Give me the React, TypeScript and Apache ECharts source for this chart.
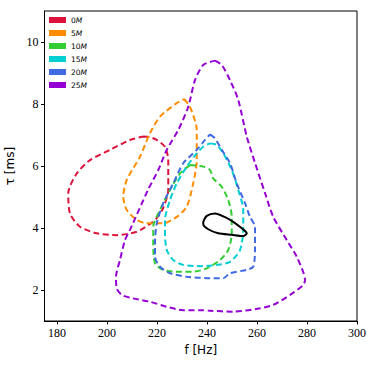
import React, { useEffect, useRef } from "react";
import * as echarts from "echarts";

// Contour outlines (f [Hz], tau [ms])
const c0M: number[][] = [
  [214.5, 6.95], [217.2, 6.93], [219.9, 6.84], [223.2, 6.62], [224.5, 6.19], [224.5, 5.65],
  [224.5, 5.23], [222.5, 4.65], [219.9, 4.32], [217.2, 4.13], [211.9, 3.88], [203.9, 3.77],
  [195.9, 3.83], [189.2, 4.04], [185.2, 4.47], [184.5, 5.12], [187.9, 5.76], [193.2, 6.19],
  [201.2, 6.52], [209.2, 6.84], [214.5, 6.95],
];
const c5M: number[][] = [
  [230.8, 8.16], [233.2, 7.91], [235.9, 7.16], [235.9, 6.19], [234.5, 5.45], [231.9, 4.69],
  [227.9, 4.36], [222.5, 4.15], [215.9, 4.15], [211.9, 4.26], [207.9, 4.58], [206.5, 5.01],
  [207.9, 5.55], [213.2, 6.3], [217.2, 7.06], [221.2, 7.59], [227.9, 8.03], [230.8, 8.16],
];
const c10M: number[][] = [
  [233.2, 6.03], [238.5, 5.98], [241.2, 5.87], [242.5, 5.6], [245.9, 5.33], [248.5, 4.9],
  [249.9, 4.36], [249.9, 3.83], [248.5, 3.29], [245.2, 2.97], [239.9, 2.7], [234.5, 2.59],
  [227.9, 2.59], [222.5, 2.65], [219.2, 2.86], [218.5, 3.51], [218.5, 4.04], [221.2, 4.58],
  [225.2, 5.23], [229.2, 5.76], [233.2, 6.03],
];
const c15M: number[][] = [
  [241.2, 6.73], [243.9, 6.68], [246.5, 6.41], [249.9, 5.87], [252.5, 5.23], [254.5, 4.58],
  [254.5, 3.94], [253.2, 3.29], [249.2, 2.91], [243.9, 2.81], [237.2, 2.77], [230.5, 2.81],
  [226.5, 2.97], [223.9, 3.29], [223.2, 3.83], [223.2, 4.26], [225.2, 4.9], [227.9, 5.44],
  [231.9, 5.98], [235.9, 6.41], [238.5, 6.62], [241.2, 6.73],
];
const c20M: number[][] = [
  [241.2, 7.02], [243.2, 6.89], [245.9, 6.52], [249.2, 6.09], [251.9, 5.44], [255.2, 4.8],
  [257.2, 4.36], [259.2, 4.04], [259.2, 3.29], [258.5, 2.75], [255.9, 2.65], [249.2, 2.54],
  [246.5, 2.38], [241.2, 2.38], [231.9, 2.43], [225.2, 2.54], [221.2, 2.75], [219.2, 3.07],
  [219.2, 3.51], [219.9, 4.15], [222.5, 4.8], [226.5, 5.44], [230.5, 6.09], [235.9, 6.52],
  [239.2, 6.84], [241.2, 7.02],
];
const c25M: number[][] = [
  [243.2, 9.4], [245.9, 9.26], [249.2, 8.77], [252.5, 8.13], [255.9, 6.95], [259.2, 6.1],
  [263.2, 5.13], [266.5, 4.36], [271.9, 3.61], [275.9, 3.07], [279.2, 2.32], [278.5, 2.16],
  [273.2, 1.84], [266.5, 1.52], [261.2, 1.41], [250.5, 1.3], [241.2, 1.33], [237.2, 1.35],
  [230.5, 1.35], [223.9, 1.46], [217.2, 1.62], [210.5, 1.73], [205.9, 1.84], [203.9, 2.05],
  [203.6, 2.43], [205.2, 2.97], [207.2, 3.61], [209.2, 3.94], [216.4, 5.23], [220.5, 5.87],
  [223.9, 6.52], [228.5, 7.16], [232.5, 7.91], [235.2, 8.77], [238.5, 9.26], [243.2, 9.4],
];
const cRef: number[][] = [
  [238.5, 4.2], [239.9, 4.39], [243.2, 4.47], [247.2, 4.35], [250.5, 4.2], [253.9, 3.99],
  [255.9, 3.83], [254.5, 3.74], [249.9, 3.78], [244.5, 3.83], [240.5, 3.96], [238.5, 4.13],
  [238.5, 4.2],
];

const seriesNames = ["0M", "5M", "10M", "15M", "20M", "25M"];
const seriesColors = ["#dc143c", "#ff8c00", "#32cd32", "#00ced1", "#4169e1", "#9400d3"];
const seriesData = [c0M, c5M, c10M, c15M, c20M, c25M];
const xTicks = [180, 200, 220, 240, 260, 280, 300];
const yTicks = [2, 4, 6, 8, 10];

export default function App() {
  const ref = useRef<HTMLDivElement>(null);
  useEffect(() => {
    if (!ref.current) return;
    const chart = echarts.init(ref.current, null, { renderer: "svg" });
    const axisCommon = {
      axisLine: { show: true, onZero: false, lineStyle: { color: "#000", width: 1 } },
      axisTick: { show: true, inside: false, length: 3.5, lineStyle: { color: "#000", width: 1 } },
      splitLine: { show: false },
      nameTextStyle: { fontFamily: "DejaVu Sans", fontSize: 12, color: "#000" },
    };
    const series: any[] = seriesData.map((d, i) => ({
      name: seriesNames[i],
      type: "line",
      data: d,
      showSymbol: false,
      symbol: "none",
      smooth: 0.25,
      color: seriesColors[i],
      itemStyle: { color: seriesColors[i] },
      lineStyle: { color: seriesColors[i], width: 2, type: [6, 3.5] },
    }));
    series.push({
      name: "ref",
      type: "line",
      data: cRef,
      showSymbol: false,
      symbol: "none",
      smooth: 0.25,
      color: "#000",
      lineStyle: { color: "#000", width: 2, type: "solid" },
      z: 5,
    });
    chart.setOption({
      animation: false,
      grid: {
        left: 44.5, top: 11, width: 312.5, height: 310,
        outerBoundsMode: "none",
        containLabel: false,
        show: true, borderColor: "#000", borderWidth: 1, backgroundColor: "transparent",
      },
      legend: {
        data: seriesNames,
        orient: "vertical",
        left: 46,
        top: 13,
        icon: "rect",
        itemWidth: 17,
        itemHeight: 6,
        itemGap: 5,
        padding: [3, 8, 3, 3],
        borderWidth: 0,
        backgroundColor: "transparent",
        textStyle: {
          fontFamily: "DejaVu Sans",
          fontSize: 7.5,
          color: "#000",
          rich: {
            n: { fontFamily: "DejaVu Sans", fontSize: 7.5, color: "#000" },
            i: { fontFamily: "DejaVu Sans", fontSize: 7.5, fontStyle: "italic", color: "#000" },
          },
        },
        formatter: (name: string) => `{n|${name.replace("M", "")}}{i|M}`,
      },
      xAxis: {
        type: "value",
        min: 175,
        max: 300,
        name: "f [Hz]",
        nameLocation: "middle",
        nameGap: 23,
        ...axisCommon,
        axisTick: { ...axisCommon.axisTick, customValues: xTicks },
        axisLabel: {
          customValues: xTicks,
          fontFamily: "Liberation Serif",
          fontSize: 12,
          color: "#000",
          margin: 6,
        },
      },
      yAxis: {
        type: "value",
        min: 1,
        max: 11,
        name: "τ [ms]",
        nameLocation: "middle",
        nameGap: 27,
        ...axisCommon,
        axisTick: { ...axisCommon.axisTick, customValues: yTicks },
        axisLabel: {
          customValues: yTicks,
          fontFamily: "Liberation Serif",
          fontSize: 12,
          color: "#000",
          margin: 6,
        },
      },
      series,
    });
    return () => chart.dispose();
  }, []);
  return (
    <div
      ref={ref}
      style={{ position: "absolute", left: 0, top: 0, width: 374, height: 365, background: "#fff" }}
    />
  );
}
